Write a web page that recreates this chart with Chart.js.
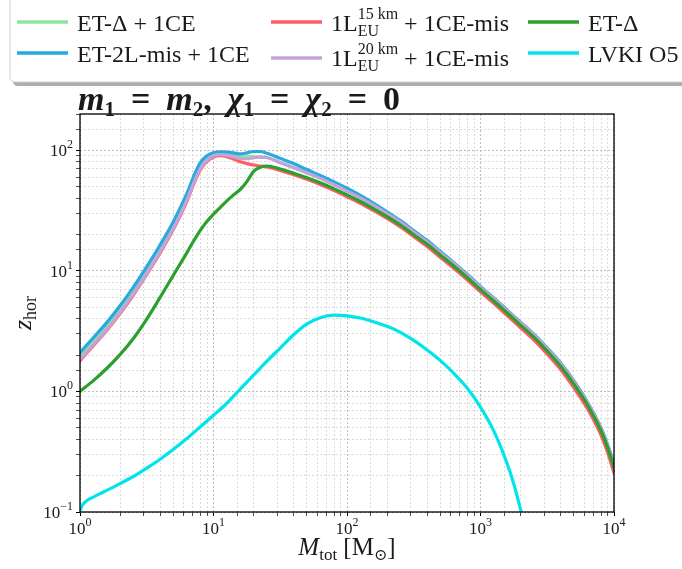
<!DOCTYPE html>
<html><head><meta charset="utf-8">
<script src="https://cdn.jsdelivr.net/npm/chart.js@4.4.1/dist/chart.umd.min.js"></script>
<style>html,body{margin:0;padding:0;background:#fff;}#wrap{width:682px;height:569px;position:relative;}</style>
</head><body><div id="wrap"><canvas id="c" width="682" height="569"></canvas></div>
<script>
// ---------- data ----------
const massGrid = [1,1.259,1.585,1.995,2.512,3.162,3.981,5.012,6.31,7.079,7.943,8.913,10,11.22,12.59,14.13,15.85,17.78,19.95,22.39,25.12,31.62,39.81,50.12,63.1,79.43,100,125.9,158.5,199.5,251.2,316.2,398.1,501.2,631,794.3,1000,1259,1585,1995,2512,3162,3981,5012,6310,7943,8913,10000];
const zEtDelta1CE = [2.0,2.65,3.53,4.88,6.97,10.3,15.6,24.4,41.5,57.3,75.0,87.1,93.3,95.1,94.4,92.3,90.2,89.1,88.7,88.1,87.1,79.4,72.1,65.3,58.9,52.4,46.2,40.6,35.2,30.1,25.5,21.1,17.5,14.2,11.6,9.27,7.36,5.92,4.70,3.73,2.96,2.28,1.71,1.21,0.817,0.504,0.365,0.247];
const zEt2Lmis1CE = [2.10,2.79,3.72,5.13,7.33,10.84,16.4,25.7,43.7,60.3,78.5,90.2,95.5,97.3,96.8,95.1,93.3,95.1,97.7,97.7,94.4,85.7,77.6,69.2,61.9,55.0,48.4,42.2,36.3,30.9,26.1,21.6,17.9,14.45,11.7,9.38,7.43,5.96,4.73,3.76,2.99,2.29,1.72,1.22,0.822,0.507,0.367,0.251];
const z1L15km = [1.80,2.40,3.20,4.42,6.31,9.33,14.1,22.1,37.6,51.9,68.4,80.4,88.1,90.2,88.5,84.7,80.4,77.6,75.5,74.1,72.8,68.1,62.7,57.4,52.0,46.6,41.2,36.4,31.6,27.2,23.1,19.2,15.9,12.9,10.5,8.43,6.70,5.37,4.25,3.37,2.67,2.04,1.52,1.07,0.721,0.440,0.316,0.211];
const z1L20km = [1.85,2.45,3.27,4.52,6.46,9.55,14.45,22.6,38.5,53.1,70.0,82.2,90.2,92.0,90.8,88.1,85.5,85.1,86.7,87.9,87.1,78.9,71.6,64.9,58.5,52.0,45.9,40.3,34.9,29.9,25.4,21.0,17.4,14.1,11.5,9.20,7.31,5.87,4.67,3.71,2.94,2.26,1.69,1.20,0.811,0.500,0.362,0.245];
const zEtDelta = [1.00,1.23,1.55,2.02,2.75,3.98,6.03,9.23,14.1,17.6,21.6,25.7,29.5,33.5,38.0,42.7,47.3,55.0,66.8,72.4,74.1,70.0,64.6,59.2,53.7,48.1,42.7,37.6,32.7,28.2,24.0,19.95,16.6,13.5,10.96,8.81,7.0,5.62,4.47,3.55,2.82,2.16,1.62,1.15,0.776,0.479,0.347,0.234];
const lvkMass = [1,1.047,1.122,1.259,1.413,1.585,1.995,2.512,3.162,3.981,5.012,6.31,7.943,10,12.59,15.85,19.95,25.12,31.62,39.81,50.12,63.1,79.43,100,125.9,158.5,199.5,251.2,316.2,398.1,501.2,631,794.3,1000,1259,1585,1778,1995,2239];
const zLvkO5 = [0.103,0.115,0.124,0.133,0.142,0.151,0.172,0.197,0.231,0.274,0.331,0.407,0.507,0.634,0.798,1.047,1.365,1.78,2.29,2.95,3.63,4.09,4.29,4.24,4.06,3.78,3.47,3.09,2.65,2.21,1.80,1.41,1.07,0.741,0.468,0.251,0.170,0.105,0.063];
const xTickExp = [0,1,2,3,4];
const yTickExp = [-1,0,1,2];

// ---------- styling ----------
const FAM = '"Liberation Serif","DejaVu Serif","Times New Roman",serif';
const F = (size, style, weight) => `${style||'normal'} ${weight||'normal'} ${size}px ${FAM}`;
const COLORS = {lg:'#90e39e', blue:'#27a9e1', red:'#ff5d66', purple:'#c2a5d8', green:'#2ca02c', cyan:'#00e4ec'};

const pts = (xs, ys) => xs.map((x,i)=>({x, y: ys[i]}));
const seriesDefs = [
  {label:'ET-Δ + 1CE', x: massGrid, y: zEtDelta1CE, color: COLORS.lg},
  {label:'ET-2L-mis + 1CE', x: massGrid, y: zEt2Lmis1CE, color: COLORS.blue},
  {label:'1L_EU^15km + 1CE-mis', x: massGrid, y: z1L15km, color: COLORS.red},
  {label:'1L_EU^20km + 1CE-mis', x: massGrid, y: z1L20km, color: COLORS.purple},
  {label:'ET-Δ', x: massGrid, y: zEtDelta, color: COLORS.green},
  {label:'LVKI O5', x: lvkMass, y: zLvkO5, color: COLORS.cyan},
];
const datasets = seriesDefs.map((s,i)=>({
  label: s.label, data: pts(s.x, s.y), borderColor: s.color, backgroundColor: s.color,
  borderWidth: 3.2, pointRadius: 0, fill: false, cubicInterpolationMode: 'monotone',
  order: seriesDefs.length - i
}));

// ---------- text helpers ----------
function measureRun(ctx, r){
  if (r.gap) return r.gap;
  ctx.font = r.f;
  if (r.stack) return Math.max(ctx.measureText(r.sup).width, ctx.measureText(r.sub).width);
  return ctx.measureText(r.t).width;
}
function drawRuns(ctx, runs, x, y, align){
  let total = 0; const ws = runs.map(r=>{const w = measureRun(ctx,r); total += w; return w;});
  let cx = x;
  if (align==='center') cx = x - total/2; else if (align==='right') cx = x - total;
  ctx.textAlign = 'left'; ctx.textBaseline = 'alphabetic';
  runs.forEach((r,i)=>{
    if (!r.gap){
      ctx.font = r.f;
      if (r.stack){ ctx.fillText(r.sup, cx, y + r.up); ctx.fillText(r.sub, cx, y + r.dn); }
      else ctx.fillText(r.t, cx, y + (r.dy||0));
    }
    cx += ws[i];
  });
  return total;
}
function roundRect(ctx, x, y, w, h, r){
  ctx.beginPath(); ctx.moveTo(x+r,y); ctx.lineTo(x+w-r,y); ctx.quadraticCurveTo(x+w,y,x+w,y+r);
  ctx.lineTo(x+w,y+h-r); ctx.quadraticCurveTo(x+w,y+h,x+w-r,y+h); ctx.lineTo(x+r,y+h);
  ctx.quadraticCurveTo(x,y+h,x,y+h-r); ctx.lineTo(x,y+r); ctx.quadraticCurveTo(x,y,x+r,y); ctx.closePath();
}

const TXT = '#1a1a1a';
const LF = F(24), LS = F(16);
const legendItems = [
  {ds:0, lx:17, ly:22, tx:77, ty:31, runs:[{t:'ET-Δ + 1CE', f:LF}]},
  {ds:1, lx:17, ly:53, tx:77, ty:62, runs:[{t:'ET-2L-mis + 1CE', f:LF}]},
  {ds:2, lx:271, ly:22, tx:331, ty:31, runs:[{t:'1L', f:LF},{stack:true, sup:'15 km', sub:'EU', f:LS, up:-12, dn:5},{t:' + 1CE-mis', f:LF}]},
  {ds:3, lx:271, ly:58, tx:331, ty:66, runs:[{t:'1L', f:LF},{stack:true, sup:'20 km', sub:'EU', f:LS, up:-12, dn:5},{t:' + 1CE-mis', f:LF}]},
  {ds:4, lx:528, ly:22, tx:588, ty:31, runs:[{t:'ET-Δ', f:LF}]},
  {ds:5, lx:528, ly:53, tx:588, ty:62, runs:[{t:'LVKI O5', f:LF}]},
];

const decorPlugin = {
  id: 'decor',
  afterDraw(chart){
    const ctx = chart.ctx, a = chart.chartArea, sx = chart.scales.x, sy = chart.scales.y;
    ctx.save();
    // frame
    ctx.strokeStyle = '#000'; ctx.lineWidth = 1.3;
    ctx.strokeRect(a.left, a.top, a.right - a.left, a.bottom - a.top);
    ctx.fillStyle = TXT;
    // x tick labels
    xTickExp.forEach(e=>{
      const px = sx.getPixelForValue(Math.pow(10,e));
      drawRuns(ctx, [{t:'10', f:F(17)},{t:String(e), f:F(12), dy:-8}], px, a.bottom + 22, 'center');
    });
    // y tick labels
    yTickExp.forEach(e=>{
      const py = sy.getPixelForValue(Math.pow(10,e));
      const es = e < 0 ? '\u2212' + Math.abs(e) : String(e);
      drawRuns(ctx, [{t:'10', f:F(17)},{t:es, f:F(12), dy:-8}], a.left - 7, py + 6, 'right');
    });
    // x axis title
    drawRuns(ctx, [{t:'M', f:F(25,'italic')},{t:'tot', f:F(17), dy:5},{t:' [M', f:F(25)},{t:'\u2299', f:F(16), dy:5},{t:']', f:F(25)}], (a.left + a.right)/2, 555, 'center');
    // y axis title
    ctx.save();
    ctx.translate(31, (a.top + a.bottom)/2);
    ctx.rotate(-Math.PI/2);
    drawRuns(ctx, [{t:'z', f:F(26,'italic')},{t:'hor', f:F(18), dy:5}], 0, 0, 'center');
    ctx.restore();
    // title, spread to the reference width
    const bi = F(34,'italic','bold'), bs = F(21,'normal','bold'), b = F(34,'normal','bold');
    const core = [
      {t:'m', f:bi},{t:'1', f:bs, dy:6},{gap:0},{t:'=', f:b},{gap:0},{t:'m', f:bi},{t:'2', f:bs, dy:6},{t:',', f:b},{gap:0},
      {t:'χ', f:bi},{t:'1', f:bs, dy:6},{gap:0},{t:'=', f:b},{gap:0},{t:'χ', f:bi},{t:'2', f:bs, dy:6},{gap:0},{t:'=', f:b},{gap:0},{t:'0', f:b}
    ];
    let nat = 0, ng = 0;
    core.forEach(r=>{ if ('gap' in r) ng++; else nat += measureRun(ctx, r); });
    const g = Math.max(4, (322 - nat) / ng);
    core.forEach(r=>{ if ('gap' in r) r.gap = g; });
    drawRuns(ctx, core, a.left - 2, 110, 'left');
    // legend box
    ctx.fillStyle = 'rgba(0,0,0,0.32)';
    roundRect(ctx, 13, -4, 700, 90, 5); ctx.fill();
    ctx.fillStyle = '#ffffff';
    roundRect(ctx, 10, -8, 700, 90, 5); ctx.fill();
    ctx.strokeStyle = '#cfcfcf'; ctx.lineWidth = 1; ctx.stroke();
    legendItems.forEach(it=>{
      const ds = chart.data.datasets[it.ds];
      ctx.strokeStyle = ds.borderColor; ctx.lineWidth = 3.5;
      ctx.beginPath(); ctx.moveTo(it.lx, it.ly); ctx.lineTo(it.lx + 51, it.ly); ctx.stroke();
      ctx.fillStyle = TXT;
      drawRuns(ctx, it.runs, it.tx, it.ty, 'left');
    });
    ctx.restore();
  }
};

const isDecade = v => { const l = Math.log10(v); return Math.abs(l - Math.round(l)) < 1e-6; };
const gridOpts = {
  color: c => (c.tick && isDecade(c.tick.value)) ? '#b5b5b5' : '#d6d6d6',
  lineWidth: 0.9,
  drawTicks: true, tickLength: 4, tickColor: '#000',
  tickWidth: c => (c.tick && isDecade(c.tick.value)) ? 1 : 0.7
};

new Chart(document.getElementById('c').getContext('2d'), {
  type: 'line',
  data: { datasets },
  options: {
    responsive: false, animation: false, devicePixelRatio: 1,
    layout: { padding: { left: 0, right: 68, top: 114, bottom: 0 } },
    plugins: { legend: { display: false }, tooltip: { enabled: false }, title: { display: false } },
    elements: { line: { borderCapStyle: 'round', borderJoinStyle: 'round' } },
    scales: {
      x: { type: 'logarithmic', min: 1, max: 10000,
           afterFit: s => { s.height = 57; },
           ticks: { autoSkip: false, maxRotation: 0, callback: () => '', font: { size: 1 }, padding: 0 },
           grid: gridOpts, border: { display: false, dash: [2, 2] } },
      y: { type: 'logarithmic', min: 0.1, max: 200,
           afterFit: s => { s.width = 80; },
           ticks: { autoSkip: false, callback: () => '', font: { size: 1 }, padding: 0 },
           grid: gridOpts, border: { display: false, dash: [2, 2] } }
    }
  },
  plugins: [decorPlugin]
});
</script></body></html>
